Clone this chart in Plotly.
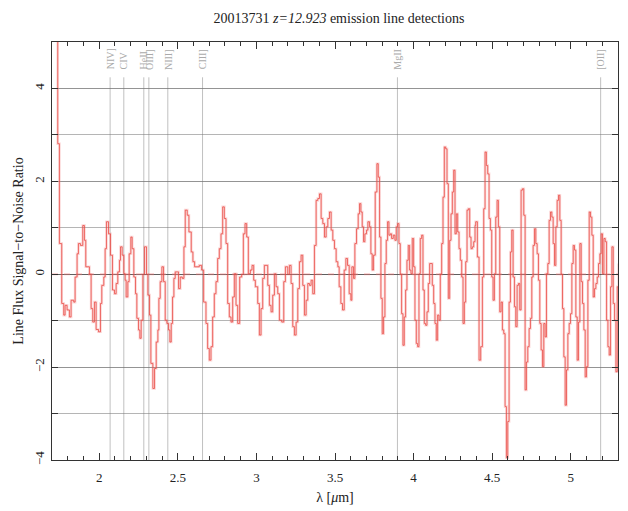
import plotly.graph_objects as go

# ---- data -----------------------------------------------------------
redshift = 12.923
title_id = "20013731"

wave_um = [
    1.694, 1.7365, 1.7471, 1.7619, 1.7747, 1.7832, 1.7959, 1.8108, 1.8214, 1.8384,
    1.8469, 1.8596, 1.8681, 1.8808, 1.8957, 1.9063, 1.9148, 1.9382, 1.9488, 1.9594,
    1.9700, 1.9806, 1.9955, 2.0082, 2.0167, 2.0295, 2.0379, 2.0464, 2.0592, 2.0719,
    2.0847, 2.0974, 2.1080, 2.1186, 2.1292, 2.1356, 2.1462, 2.1568, 2.1653, 2.1717,
    2.1823, 2.1908, 2.2014, 2.2099, 2.2205, 2.2312, 2.2396, 2.2503, 2.2588, 2.2672,
    2.2779, 2.2885, 2.3012, 2.3097, 2.3203, 2.3288, 2.3416, 2.3522, 2.3628, 2.3734,
    2.3798, 2.3883, 2.3989, 2.4095, 2.4201, 2.4307, 2.4413, 2.4498, 2.4583, 2.4668,
    2.4753, 2.4838, 2.4965, 2.5050, 2.5157, 2.5284, 2.5390, 2.5475, 2.5602, 2.5709,
    2.5857, 2.5963, 2.6070,
    2.6220, 2.6368, 2.6517, 2.6644, 2.6793, 2.6899, 2.7005, 2.7112, 2.7218, 2.7324,
    2.7430, 2.7536, 2.7642, 2.7749, 2.7855, 2.7961, 2.8067, 2.8173, 2.8279, 2.8385,
    2.8492, 2.8598, 2.8704, 2.8810, 2.8937, 2.9065, 2.9171, 2.9277, 2.9383, 2.9489,
    2.9617, 2.9723, 2.9829, 2.9935, 3.0084, 3.0190, 3.0296, 3.0402, 3.0509, 3.0615,
    3.0721, 3.0827, 3.0933, 3.1039, 3.1146, 3.1252, 3.1358, 3.1464, 3.1613, 3.1740,
    3.1846, 3.1995, 3.2101, 3.2207, 3.2313, 3.2419, 3.2526, 3.2632, 3.2738, 3.2844,
    3.2950, 3.3056, 3.3163, 3.3269, 3.3375, 3.3481, 3.3587, 3.3693, 3.3800, 3.3906,
    3.4012, 3.4118, 3.4224, 3.4330, 3.4436, 3.4543, 3.4649, 3.4755, 3.4861, 3.4967,
    3.5073, 3.5180,
    3.5266, 3.5372, 3.5478, 3.5585, 3.5691, 3.5797, 3.5903, 3.6009, 3.6073, 3.6179,
    3.6264, 3.6370, 3.6476, 3.6561, 3.6646, 3.6731, 3.6816, 3.6901, 3.7007, 3.7092,
    3.7198, 3.7283, 3.7368, 3.7453, 3.7559, 3.7665, 3.7750, 3.7835, 3.7920, 3.8005,
    3.8090, 3.8175, 3.8260, 3.8345, 3.8430, 3.8515, 3.8599, 3.8706, 3.8812, 3.8897,
    3.8982, 3.9067, 3.9152, 3.9236, 3.9321, 3.9406, 3.9491, 3.9576, 3.9661, 3.9746,
    3.9831, 3.9916, 4.0001, 4.0086, 4.0171, 4.0256, 4.0340, 4.0425, 4.0510, 4.0595,
    4.0680, 4.0765, 4.0850, 4.0935, 4.1020, 4.1105, 4.1190, 4.1275, 4.1360, 4.1444,
    4.1529, 4.1614, 4.1699, 4.1784, 4.1869, 4.1954, 4.2039, 4.2124, 4.2209, 4.2294,
    4.2379, 4.2464, 4.2549, 4.2633, 4.2718, 4.2803, 4.2888, 4.2973, 4.3058, 4.3143,
    4.3228, 4.3313, 4.3398, 4.3483, 4.3568, 4.3652, 4.3737, 4.3822, 4.3907,
    4.3950, 4.4056, 4.4162, 4.4268, 4.4375, 4.4460, 4.4544, 4.4629, 4.4714, 4.4799,
    4.4884, 4.4969, 4.5054, 4.5139, 4.5224, 4.5309, 4.5394, 4.5479, 4.5564, 4.5649,
    4.5733, 4.5818, 4.5903, 4.5988, 4.6073, 4.6158, 4.6243, 4.6328, 4.6413, 4.6498,
    4.6583, 4.6668, 4.6753, 4.6837, 4.6922, 4.7007, 4.7092, 4.7177, 4.7262, 4.7347,
    4.7432, 4.7517, 4.7602, 4.7687, 4.7772, 4.7857, 4.7941, 4.8026, 4.8111, 4.8196,
    4.8281, 4.8366, 4.8451, 4.8536, 4.8621, 4.8706, 4.8791, 4.8876, 4.8961, 4.9046,
    4.9130, 4.9215, 4.9300, 4.9385, 4.9470, 4.9555, 4.9640, 4.9725, 4.9810, 4.9895,
    4.9980, 5.0065, 5.0150, 5.0234, 5.0319, 5.0404, 5.0489, 5.0574, 5.0659, 5.0744,
    5.0829, 5.0914, 5.0999, 5.1084, 5.1169, 5.1254, 5.1338, 5.1423, 5.1508, 5.1593,
    5.1678, 5.1763, 5.1848, 5.1933, 5.2018, 5.2103, 5.2188, 5.2273, 5.2358, 5.2442,
    5.2527, 5.2612, 5.2697, 5.2782, 5.2867, 5.2952, 5.3037,
]

snr = [
    6.0, 2.81, 0.66, -0.63, -0.88, -0.67, -0.77, -0.92, -0.56, -0.60,
    -0.06, 0.44, 0.66, 0.62, 1.05, 0.73, 0.16, 0.00, -0.74, -1.03,
    -0.60, -1.19, -1.24, -0.63, -0.24, -0.06, 0.55, 1.13, 0.87, 0.41,
    -0.34, -0.42, -0.20, 0.05, 0.30, 0.59, 0.41, 0.01, -0.13, -0.49,
    -0.16, 0.44, 0.80, 0.55, -0.06, -0.42, -0.95, -1.20, -1.38, -0.99,
    0.00, 0.59, 0.00, -0.45, -0.88, -1.92, -2.46, -2.03, -1.46, -1.20,
    -0.52, -0.16, 0.16, -0.16, -0.99, -1.06, -1.20, -1.46, -1.06, -0.49,
    -0.09, 0.05, 0.05, -0.31, -0.06, -0.09, 0.59, 1.38, 1.27, 0.91,
    0.48, 0.27, 0.16,
    0.16, 0.19, 0.09, -0.60, -1.06, -1.60, -1.85, -1.56, -0.92, -0.42,
    -0.16, 0.34, 0.55, 0.87, 1.45, 1.20, 0.66, -0.63, -0.92, -1.03,
    -0.49, 0.01, -0.67, -1.06, -0.06, 0.00, 0.87, 1.09, 0.80, 0.01,
    0.09, 0.19, -0.13, -0.27, -0.63, -1.31, -0.74, -0.09, 0.19, 0.19,
    -0.24, -0.67, -0.81, -0.45, 0.01, -0.27, -0.42, -0.99, -1.03, -0.16,
    0.16, 0.00, 0.19, -0.20, -1.13, -1.31, -1.03, -0.31, 0.27, 0.41,
    -0.24, -0.88, -0.56, -0.20, -0.24, -0.13, -0.42, 0.62, 1.59, 1.63,
    1.73, 1.20, 1.09, 0.80, 1.02, 1.20, 1.34, 0.95, 0.73, 0.55,
    0.27, 0.16,
    -0.27, -0.63, -0.77, 0.09, 0.34, 0.19, -0.42, -0.56, 0.16, -0.09,
    0.66, 0.98, 1.30, 1.52, 1.34, 1.02, 0.70, 0.87, 0.95, 1.13,
    1.02, 0.44, 0.09, 0.41, 1.77, 2.38, 2.09, 0.80, -0.52, -1.28,
    -0.92, 0.23, 0.73, 1.13, 0.84, 0.87, 0.77, 0.84, 0.73, 1.02,
    1.09, 0.66, 0.00, -0.85, -1.53, -0.92, -0.34, 0.30, 0.62, 0.09,
    0.01, 0.77, 0.16, -0.99, -1.49, -1.56, 0.01, 0.77, 0.84, -0.34,
    -1.06, -1.10, -0.81, -0.20, 0.23, 0.23, -0.24, -0.63, -1.06, -1.42,
    -0.88, -0.99, 0.00, 0.66, 1.66, 2.74, 2.70, 1.95, -0.52, 0.73,
    1.30, 1.77, 2.24, 0.87, 1.30, 0.91, 0.55, 0.30, -0.06, -1.06,
    -0.60, 0.27, 1.38, 1.41, 0.80, 0.55, 0.59, 0.70, 1.05,
    1.13, 0.37, -1.85, -1.56, -0.06, 1.41, 2.63, 2.34, 2.16, 1.20,
    0.95, -0.06, -0.56, 0.01, 1.23, 1.59, 1.02, -0.81, -0.60, -1.20,
    -1.28, -2.85, -3.95, -3.17, -0.60, 0.48, 0.95, -0.06, -0.70, -1.13,
    -0.24, -0.20, -0.77, 1.81, 1.84, 1.27, -2.49, -1.89, -1.56, -1.17,
    -0.95, -0.06, 0.62, 0.98, 0.66, 0.44, -0.13, -1.06, -1.63, -1.99,
    -1.06, -1.35, 0.01, 0.23, 1.16, 1.34, 1.23, 0.66, 0.19, 1.02,
    1.59, 1.70, 1.16, 0.00, -0.74, -1.78, -2.82, -2.06, -1.28, -1.06,
    -0.85, 0.23, 0.62, 0.52, -0.92, -1.85, -1.03, 0.66, -0.16, -0.63,
    -1.20, -2.21, -1.99, -0.13, 1.34, 1.23, 0.84, -0.49, -0.31, -0.20,
    -0.06, 0.23, 0.44, 0.87, 0.01, 0.77, 0.70, -0.99, -1.56, -1.74,
    -0.27, 0.59, -0.63, -0.99, -2.10, -0.27, 0.23,
]

line_names = ["NIV]", "CIV", "HeII", "OIII]", "NIII]", "CIII]", "MgII", "[OII]"]
line_rest_A = [1486.5, 1549.0, 1640.4, 1663.5, 1750.0, 1908.7, 2799.1, 3727.4]

x_range = [1.7, 5.3]
y_range = [-4, 5]
x_tickvals = [2, 2.5, 3, 3.5, 4, 4.5, 5]
y_tickvals = [-4, -2, 0, 2, 4]
line_top = 4.24
label_base = 4.36

# ---- figure ---------------------------------------------------------
FONT = "Liberation Serif"
fig = go.Figure()

# pale wide halo of the spectrum
fig.add_trace(go.Scatter(
    x=wave_um, y=snr, mode="lines", line_shape="hv",
    line=dict(color="rgba(242,120,120,0.30)", width=2.6),
    hoverinfo="skip", showlegend=False))
# faint dashed zero level
fig.add_trace(go.Scatter(
    x=x_range, y=[0, 0], mode="lines",
    line=dict(color="rgba(240,120,120,0.40)", width=2, dash="6px,6px"),
    hoverinfo="skip", showlegend=False))
# thin spectrum line
fig.add_trace(go.Scatter(
    x=wave_um, y=snr, mode="lines", line_shape="hv",
    line=dict(color="rgb(232,68,62)", width=0.75),
    showlegend=False))

obs_um = [w * (1 + redshift) / 1e4 for w in line_rest_A]
for name, xl in zip(line_names, obs_um):
    fig.add_shape(type="line", x0=xl, x1=xl, y0=y_range[0], y1=line_top,
                  xref="x", yref="y",
                  line=dict(color="rgba(140,140,140,0.55)", width=1), layer="below")
    fig.add_annotation(x=xl, y=label_base, xref="x", yref="y", text=name,
                       textangle=-90, showarrow=False, xanchor="center",
                       yanchor="bottom",
                       font=dict(family=FONT, size=10, color="#aaaaaa"))

# The page body adds an 8px offset; margins compensate so the plot box
# lands at x 52-618, y 42-460 in the window.
fig.update_layout(
    width=628, height=511,
    margin=dict(l=44, r=18, t=34, b=59),
    paper_bgcolor="white", plot_bgcolor="white",
    font=dict(family=FONT, size=13, color="#222"),
    title=dict(text=f"{title_id} <i>z=12.923</i> emission line detections",
               x=0.527, xanchor="center", y=0.99, yanchor="top",
               font=dict(family=FONT, size=14, color="#222")),
    xaxis=dict(range=x_range, tickvals=x_tickvals, ticktext=[str(v) for v in x_tickvals],
               automargin=False, ticklabelstandoff=5,
               ticks="inside", ticklen=7, tickcolor="#333", showgrid=False,
               zeroline=False, showline=True, linecolor="#333", linewidth=1, mirror="ticks",
               minor=dict(dtick=0.1, ticks="inside", ticklen=4, tickcolor="#333", showgrid=False),
               tickfont=dict(family=FONT, size=13),
               title=dict(text="λ [<i>μ</i>m]", font=dict(family=FONT, size=14), standoff=8)),
    yaxis=dict(range=y_range, tickvals=y_tickvals, automargin=False,
               ticktext=["−4", "−2", "0", "2", "4"], tickangle=-90,
               ticks="inside", ticklen=6, tickcolor="#333", ticklabelstandoff=2,
               showgrid=True, gridcolor="rgba(120,120,120,0.55)", gridwidth=1,
               zeroline=True, zerolinecolor="rgba(80,80,80,0.85)", zerolinewidth=1.2,
               showline=True, linecolor="#333", linewidth=1, mirror="ticks",
               minor=dict(dtick=1, ticks="inside", ticklen=6, tickcolor="#333",
                          showgrid=True, gridcolor="rgba(120,120,120,0.55)", gridwidth=1),
               tickfont=dict(family=FONT, size=13),
               title=dict(text="Line Flux Signal−to−Noise Ratio",
                          font=dict(family=FONT, size=14), standoff=4)),
)

fig.write_html("out.html")
